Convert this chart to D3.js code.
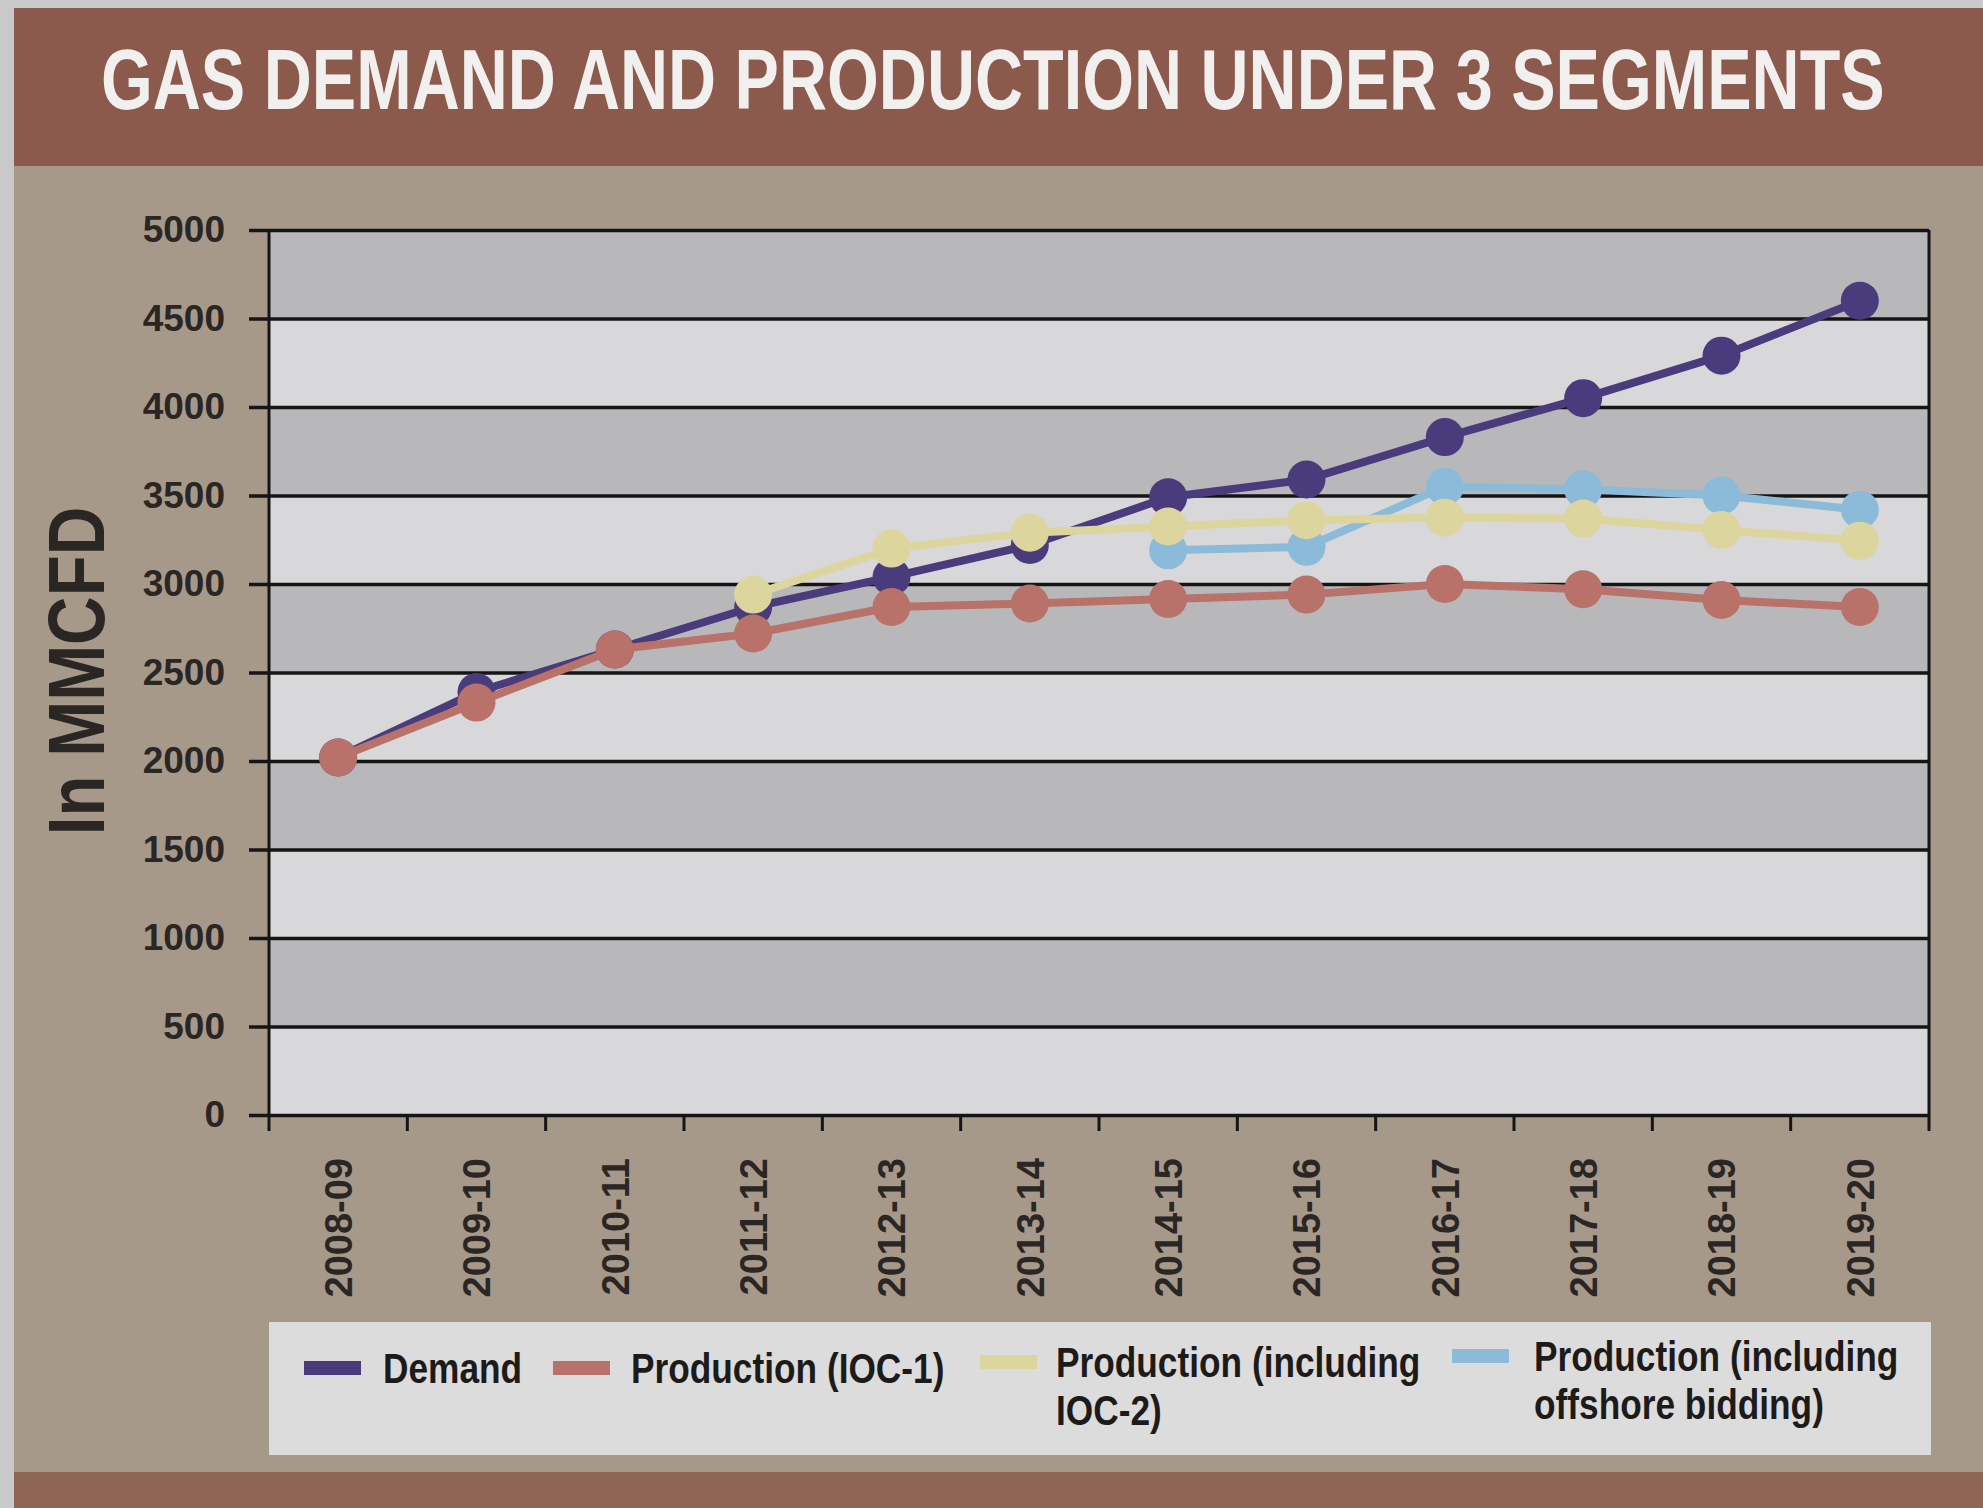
<!DOCTYPE html>
<html>
<head>
<meta charset="utf-8">
<script src="https://cdn.jsdelivr.net/npm/d3@7"></script>
<style>
  body { margin: 0; background: #c9c9c9; }
  text { font-family: "Liberation Sans", Arial, sans-serif; font-weight: bold; }
</style>
</head>
<body>
<div class="root"></div>
<script>
const title = 'GAS DEMAND AND PRODUCTION UNDER 3 SEGMENTS'
const yTitle = 'In MMCFD'

const years = ['2008-09', '2009-10', '2010-11', '2011-12', '2012-13', '2013-14',
               '2014-15', '2015-16', '2016-17', '2017-18', '2018-19', '2019-20']
const yTicks = [0, 500, 1000, 1500, 2000, 2500, 3000, 3500, 4000, 4500, 5000]

const demand   = [2020, 2390, 2630, 2870, 3040, 3220, 3490, 3590, 3830, 4050, 4290, 4600]
const prodIOC1 = [2020, 2330, 2630, 2720, 2870, 2890, 2915, 2940, 3000, 2970, 2910, 2870]
const prodIOC2 = [null, null, null, 2940, 3200, 3290, 3325, 3360, 3375, 3370, 3305, 3245]
const offshore = [null, null, null, null, null, null, 3190, 3210, 3550, 3535, 3500, 3420]

const seriesNames = [['Demand'], ['Production (IOC-1)'],
                     ['Production (including', 'IOC-2)'],
                     ['Production (including', 'offshore bidding)']]
const seriesColors = ['#4a3b7c', '#b8726a', '#ddd59e', '#8cbbd9']

renderGraph()

function renderGraph () {
  const W = 1983, H = 1508
  const plot = { left: 269, right: 1929, top: 230, bottom: 1115 }
  const narrow = 0.84   // squeeze for the condensed face of the original

  const svg = d3.select('.root').append('svg')
                .attr('width', W)
                .attr('height', H)

  // paper + panel
  svg.append('rect').attr('width', W).attr('height', H).attr('fill', '#c9c9c9')
  svg.append('rect').attr('x', 14).attr('y', 8).attr('width', W - 14).attr('height', H - 8).attr('fill', '#a6998a')
  svg.append('rect').attr('x', 14).attr('y', 8).attr('width', W - 14).attr('height', 158).attr('fill', '#8b5a4d')
  svg.append('rect').attr('x', 14).attr('y', 1472).attr('width', W - 14).attr('height', 36).attr('fill', '#8d6455')

  // title: squeezed to the width it has in the original
  const titleText = svg.append('text')
     .attr('font-size', 86)
     .attr('fill', '#f2f0ee')
     .text(title)
  const titleW = titleText.node().getComputedTextLength()
  titleText.attr('transform', `translate(101, 109) scale(${1784 / titleW}, 1)`)

  const x = d3.scaleBand().domain(years).range([plot.left, plot.right])
  const y = d3.scaleLinear().domain([0, 5000]).range([plot.bottom, plot.top])

  // alternating bands
  const bands = yTicks.slice(0, -1)
  svg.append('g').selectAll('rect')
     .data(bands)
     .enter().append('rect')
     .attr('x', plot.left)
     .attr('width', plot.right - plot.left)
     .attr('y', d => y(d + 500))
     .attr('height', d => y(d) - y(d + 500))
     .attr('fill', (d, i) => i % 2 === 0 ? '#d8d8da' : '#b8b8bb')

  // y axis with gridlines
  const yAxis = d3.axisLeft(y)
                  .tickValues(yTicks)
                  .tickFormat(d3.format('d'))
                  .tickSize(-(plot.right - plot.left))
                  .tickPadding(0)
  const gy = svg.append('g')
                .attr('transform', `translate(${plot.left}, 0)`)
                .call(yAxis)
  gy.select('.domain').remove()
  gy.selectAll('line').attr('stroke', '#151515').attr('stroke-width', 3.5).attr('x1', -20)
  gy.selectAll('text')
    .attr('x', -44)
    .attr('font-size', 37)
    .attr('fill', '#2a2624')
    .style('font-family', '"Liberation Sans", Arial, sans-serif')

  svg.append('line')
     .attr('x1', plot.left).attr('x2', plot.left)
     .attr('y1', plot.top).attr('y2', plot.bottom)
     .attr('stroke', '#151515').attr('stroke-width', 3)
  svg.append('line')
     .attr('x1', plot.right).attr('x2', plot.right)
     .attr('y1', plot.top).attr('y2', plot.bottom)
     .attr('stroke', '#151515').attr('stroke-width', 3)

  // x axis ticks at band edges
  const edges = years.map(d => x(d)).concat([plot.right])
  svg.append('g').selectAll('line')
     .data(edges)
     .enter().append('line')
     .attr('x1', d => d).attr('x2', d => d)
     .attr('y1', plot.bottom).attr('y2', plot.bottom + 16)
     .attr('stroke', '#151515').attr('stroke-width', 3)

  svg.append('g').selectAll('text')
     .data(years)
     .enter().append('text')
     .attr('transform', d => `translate(${x(d) + x.bandwidth() / 2}, 1158) rotate(-90)`)
     .attr('text-anchor', 'end')
     .attr('dy', '0.36em')
     .attr('font-size', 38)
     .attr('fill', '#2a2624')
     .text(d => d)

  svg.append('text')
     .attr('transform', `translate(104, 671) rotate(-90) scale(${narrow}, 1)`)
     .attr('text-anchor', 'middle')
     .attr('font-size', 80)
     .attr('fill', '#2a2624')
     .text(yTitle)

  // series, drawn in the order they stack in the picture
  const allSeries = [demand, prodIOC1, prodIOC2, offshore]
  const drawOrder = [0, 3, 1, 2]
  const line = d3.line()
                 .defined(d => d.v !== null)
                 .x(d => x(d.year) + x.bandwidth() / 2)
                 .y(d => y(d.v))

  drawOrder.forEach(k => {
    const pts = years.map((yr, i) => ({ year: yr, v: allSeries[k][i] }))
    const g = svg.append('g')
    g.append('path')
     .datum(pts)
     .attr('d', line)
     .attr('fill', 'none')
     .attr('stroke', seriesColors[k])
     .attr('stroke-width', 8)
    g.selectAll('circle')
     .data(pts.filter(d => d.v !== null))
     .enter().append('circle')
     .attr('cx', d => x(d.year) + x.bandwidth() / 2)
     .attr('cy', d => y(d.v))
     .attr('r', 19)
     .attr('fill', seriesColors[k])
  })

  // legend
  const legend = svg.append('g')
  legend.append('rect')
        .attr('x', 269).attr('y', 1322)
        .attr('width', 1662).attr('height', 133)
        .attr('fill', '#dcdcdd')

  const legendPos = [
    { sx: 304, tx: 383, ty: 1383 },
    { sx: 553, tx: 631, ty: 1383 },
    { sx: 980, tx: 1056, ty: 1377 },
    { sx: 1452, tx: 1534, ty: 1371 }
  ]
  legendPos.forEach((p, k) => {
    legend.append('rect')
          .attr('x', p.sx).attr('y', p.ty - 22)
          .attr('width', 57).attr('height', 14)
          .attr('fill', seriesColors[k])
    const t = legend.append('text')
                    .attr('transform', `translate(${p.tx}, ${p.ty}) scale(${narrow}, 1)`)
                    .attr('font-size', 42)
                    .attr('fill', '#1d1b1a')
    seriesNames[k].forEach((s, j) => {
      t.append('tspan').attr('x', 0).attr('dy', j === 0 ? 0 : 48).text(s)
    })
  })
}
</script>
</body>
</html>
